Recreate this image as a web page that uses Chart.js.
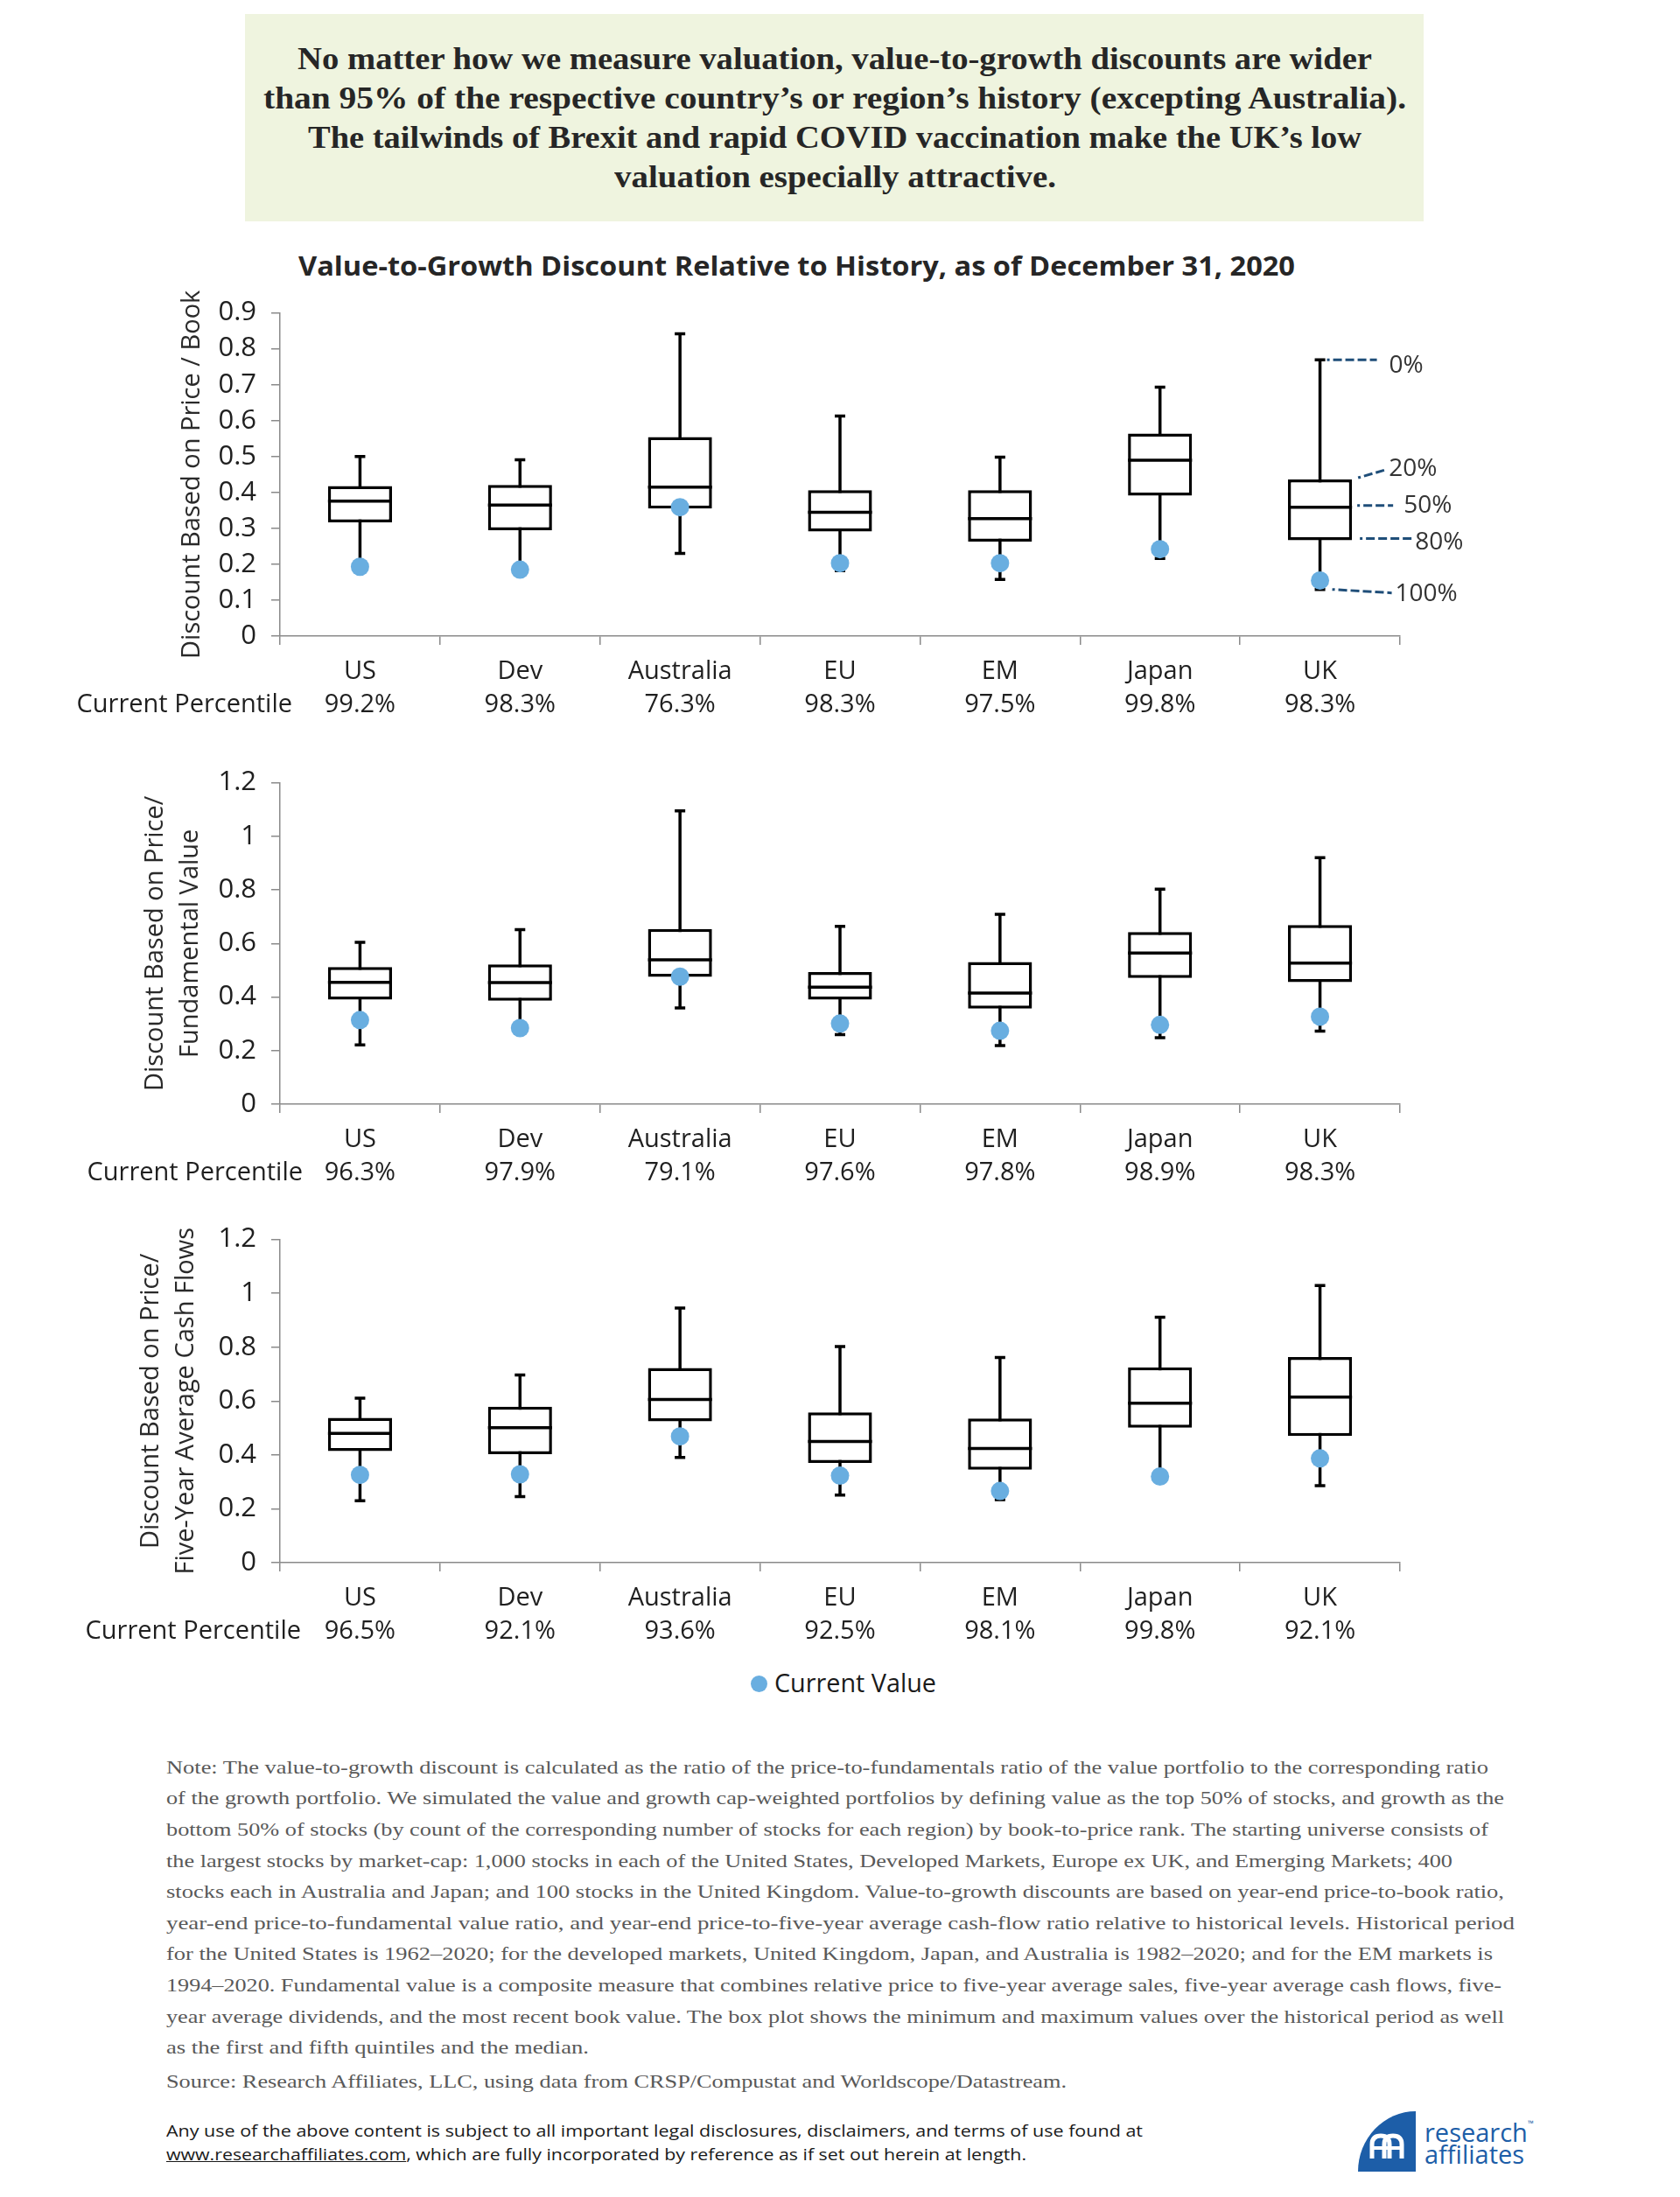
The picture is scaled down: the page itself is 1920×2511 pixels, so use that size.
<!DOCTYPE html>
<html>
<head>
<meta charset="utf-8">
<script src="https://cdn.jsdelivr.net/npm/chart.js@4.4.0/dist/chart.umd.min.js"></script>
<style>
  html, body { margin:0; padding:0; background:#fff; }
  body { width:1920px; height:2511px; position:relative; overflow:hidden; }
  .abs { position:absolute; white-space:nowrap; line-height:1; }
  .ban { font-family:"Liberation Serif", serif; font-weight:700; font-size:35px; color:#262626; }
  .note { font-family:"Liberation Serif", serif; font-size:22px; color:#595959; }
  .disc { font-family:"Open Sans", sans-serif; font-size:19px; color:#1a1a1a; }
  canvas { position:absolute; left:0; }
</style>
</head>
<body>
<div style="position:absolute;left:280px;top:16px;width:1347px;height:237px;background:#eff4df;"></div>
<div class="abs ban fit" data-cx="954" data-w="1228" style="top:50px;">No matter how we measure valuation, value-to-growth discounts are wider</div>
<div class="abs ban fit" data-cx="954" data-w="1306" style="top:95px;">than 95% of the respective country’s or region’s history (excepting Australia).</div>
<div class="abs ban fit" data-cx="954" data-w="1204" style="top:140px;">The tailwinds of Brexit and rapid COVID vaccination make the UK’s low</div>
<div class="abs ban fit" data-cx="954" data-w="505" style="top:185px;">valuation especially attractive.</div>

<div class="abs fit" data-cx="910" data-w="1139" style="top:289px;font-family:'Open Sans',sans-serif;font-weight:700;font-size:30px;color:#262626;">Value-to-Growth Discount Relative to History, as of December 31, 2020</div>

<canvas id="c1" width="1920" height="515" style="top:322px;width:1920px;height:515px;"></canvas>
<canvas id="c2" width="1920" height="513" style="top:859px;width:1920px;height:513px;"></canvas>
<canvas id="c3" width="1920" height="515" style="top:1381px;width:1920px;height:515px;"></canvas>

<div style="position:absolute;left:858px;top:1915px;width:19px;height:19px;border-radius:50%;background:#69aee0;"></div>
<div class="abs fit" data-l="885" data-w="185" style="left:885px;top:1908px;font-family:'Open Sans',sans-serif;font-size:29px;color:#1a1a1a;">Current Value</div>

<div class="abs note fit" data-l="190" data-w="1511" style="left:190px;top:2009px;">Note: The value-to-growth discount is calculated as the ratio of the price-to-fundamentals ratio of the value portfolio to the corresponding ratio</div>
<div class="abs note fit" data-l="190" data-w="1529" style="left:190px;top:2044px;">of the growth portfolio. We simulated the value and growth cap-weighted portfolios by defining value as the top 50% of stocks, and growth as the</div>
<div class="abs note fit" data-l="190" data-w="1511" style="left:190px;top:2080px;">bottom 50% of stocks (by count of the corresponding number of stocks for each region) by book-to-price rank. The starting universe consists of</div>
<div class="abs note fit" data-l="190" data-w="1470" style="left:190px;top:2116px;">the largest stocks by market-cap: 1,000 stocks in each of the United States, Developed Markets, Europe ex UK, and Emerging Markets; 400</div>
<div class="abs note fit" data-l="190" data-w="1529" style="left:190px;top:2151px;">stocks each in Australia and Japan; and 100 stocks in the United Kingdom. Value-to-growth discounts are based on year-end price-to-book ratio,</div>
<div class="abs note fit" data-l="190" data-w="1541" style="left:190px;top:2187px;">year-end price-to-fundamental value ratio, and year-end price-to-five-year average cash-flow ratio relative to historical levels. Historical period</div>
<div class="abs note fit" data-l="190" data-w="1516" style="left:190px;top:2222px;">for the United States is 1962–2020; for the developed markets, United Kingdom, Japan, and Australia is 1982–2020; and for the EM markets is</div>
<div class="abs note fit" data-l="190" data-w="1526" style="left:190px;top:2258px;">1994–2020. Fundamental value is a composite measure that combines relative price to five-year average sales, five-year average cash flows, five-</div>
<div class="abs note fit" data-l="190" data-w="1529" style="left:190px;top:2294px;">year average dividends, and the most recent book value. The box plot shows the minimum and maximum values over the historical  period as well</div>
<div class="abs note fit" data-l="190" data-w="483" style="left:190px;top:2329px;">as the first and fifth quintiles and the median.</div>
<div class="abs note fit" data-l="190" data-w="1029" style="left:190px;top:2368px;">Source: Research Affiliates, LLC, using data from CRSP/Compustat and Worldscope/Datastream.</div>

<div class="abs disc fit" data-l="190" data-w="1116" style="left:190px;top:2426px;">Any use of the above content is subject to all important legal disclosures, disclaimers, and terms of use found at</div>
<div class="abs disc fit" data-l="190" data-w="983" style="left:190px;top:2453px;"><span style="text-decoration:underline;">www.researchaffiliates.com</span>, which are fully incorporated by reference as if set out herein at length.</div>

<svg style="position:absolute;left:1550px;top:2411px;" width="70" height="73" viewBox="0 0 70 73">
  <path d="M68,2 L68,71 L2,71 A66,69 0 0 1 68,2 Z" fill="#1d5ea8"/>
  <path d="M18,56 L18,40 Q18,30 28,30 Q38,30 38,40 L38,56" fill="none" stroke="#fff" stroke-width="5"/>
  <path d="M32,56 L32,40 Q32,30 42,30 Q52,30 52,40 L52,56" fill="none" stroke="#fff" stroke-width="5"/>
  <path d="M18,44 L52,44" stroke="#fff" stroke-width="4"/>
</svg>
<div class="abs" style="left:1628px;top:2422px;font-family:'Open Sans',sans-serif;font-size:29px;color:#1d5ea8;">research<span style="font-size:9px;vertical-align:top;">™</span></div>
<div class="abs" style="left:1628px;top:2447px;font-family:'Open Sans',sans-serif;font-size:29px;color:#1d5ea8;">affiliates</div>

<script>
// ---------- DATA ----------
const categories = ['US', 'Dev', 'Australia', 'EU', 'EM', 'Japan', 'UK'];

// Chart 1: Price / Book
const pbMin     = [0.190, 0.180, 0.230, 0.182, 0.158, 0.216, 0.130];
const pbLower   = [0.317, 0.295, 0.355, 0.291, 0.263, 0.391, 0.267];
const pbMedian  = [0.376, 0.365, 0.415, 0.345, 0.327, 0.490, 0.359];
const pbUpper   = [0.418, 0.421, 0.554, 0.406, 0.406, 0.564, 0.436];
const pbMax     = [0.500, 0.491, 0.842, 0.613, 0.498, 0.693, 0.769];
const pbCurrent = [0.193, 0.185, 0.359, 0.203, 0.203, 0.242, 0.155];
const pbPercentile = ['99.2%', '98.3%', '76.3%', '98.3%', '97.5%', '99.8%', '98.3%'];

// Chart 2: Price / Fundamental Value
const pfvMin     = [0.221, 0.275, 0.359, 0.260, 0.219, 0.248, 0.273];
const pfvLower   = [0.390, 0.386, 0.475, 0.390, 0.357, 0.471, 0.456];
const pfvMedian  = [0.455, 0.454, 0.539, 0.437, 0.415, 0.564, 0.527];
const pfvUpper   = [0.512, 0.522, 0.654, 0.493, 0.531, 0.643, 0.669];
const pfvMax     = [0.604, 0.652, 1.095, 0.664, 0.709, 0.803, 0.920];
const pfvCurrent = [0.314, 0.284, 0.476, 0.301, 0.274, 0.296, 0.327];
const pfvPercentile = ['96.3%', '97.9%', '79.1%', '97.6%', '97.8%', '98.9%', '98.3%'];

// Chart 3: Price / Five-Year Average Cash Flows
const pcfMin     = [0.230, 0.245, 0.391, 0.251, 0.234, 0.310, 0.286];
const pcfLower   = [0.414, 0.403, 0.525, 0.370, 0.345, 0.501, 0.470];
const pcfMedian  = [0.480, 0.501, 0.606, 0.450, 0.424, 0.592, 0.615];
const pcfUpper   = [0.538, 0.579, 0.723, 0.558, 0.535, 0.725, 0.763];
const pcfMax     = [0.611, 0.697, 0.945, 0.802, 0.762, 0.911, 1.029];
const pcfCurrent = [0.326, 0.328, 0.469, 0.323, 0.266, 0.320, 0.387];
const pcfPercentile = ['96.5%', '92.1%', '93.6%', '92.5%', '98.1%', '99.8%', '92.1%'];

const yTicks1 = [0, 0.1, 0.2, 0.3, 0.4, 0.5, 0.6, 0.7, 0.8, 0.9];
const yTicks23 = [0, 0.2, 0.4, 0.6, 0.8, 1, 1.2];
const percentileLabel = 'Current Percentile';
const legendLabel = 'Current Value';
const ukAnnotations = ['0%', '20%', '50%', '80%', '100%'];

// ---------- STYLE ----------
const AXIS = '#8a8a8a';
const TXT = '#1f1f1f';
const DOT = '#69aee0';
const FONT = "'Open Sans', sans-serif";

// whiskers (behind boxes), medians (on boxes), percentile label, annotations
const boxParts = {
  id: 'boxParts',
  beforeDatasetsDraw(chart, args, o) {
    const ctx = chart.ctx, xs = chart.scales.x, ys = chart.scales.y;
    ctx.save();
    ctx.strokeStyle = '#000';
    ctx.lineWidth = 3.5;
    o.min.forEach((mn, i) => {
      const x = xs.getPixelForValue(i);
      const y0 = ys.getPixelForValue(mn), y1 = ys.getPixelForValue(o.max[i]);
      ctx.beginPath(); ctx.moveTo(x, y0); ctx.lineTo(x, y1); ctx.stroke();
      ctx.beginPath(); ctx.moveTo(x - 6, y0); ctx.lineTo(x + 6, y0);
      ctx.moveTo(x - 6, y1); ctx.lineTo(x + 6, y1); ctx.stroke();
    });
    ctx.restore();
  },
  afterDatasetDraw(chart, args, o) {
    if (args.index !== 0) return;
    const ctx = chart.ctx, ys = chart.scales.y;
    const meta = chart.getDatasetMeta(0);
    ctx.save();
    ctx.strokeStyle = '#000';
    ctx.lineWidth = 3.5;
    o.median.forEach((m, i) => {
      const bar = meta.data[i];
      const y = ys.getPixelForValue(m);
      ctx.beginPath(); ctx.moveTo(bar.x - bar.width / 2, y); ctx.lineTo(bar.x + bar.width / 2, y); ctx.stroke();
    });
    ctx.restore();
  },
  afterDraw(chart, args, o) {
    const ctx = chart.ctx, xs = chart.scales.x, ys = chart.scales.y;
    ctx.save();
    ctx.font = "29px " + FONT;
    ctx.fillStyle = TXT;
    ctx.textAlign = 'right';
    ctx.textBaseline = 'middle';
    const lh = 29 * 1.3;
    ctx.fillText(percentileLabel, o.cpRight, xs.top + 10 + 12 + lh * 1.5);
    if (o.annotate) {
      const i = categories.length - 1;
      const meta = chart.getDatasetMeta(0);
      const bar = meta.data[i];
      const x = bar.x, bR = bar.x + bar.width / 2;
      const yMax = ys.getPixelForValue(o.max[i]);
      const yUp = ys.getPixelForValue(o.upper[i]);
      const yMed = ys.getPixelForValue(o.median[i]);
      const yLow = ys.getPixelForValue(o.lower[i]);
      const yMin = ys.getPixelForValue(o.min[i]);
      ctx.strokeStyle = '#1f4e79';
      ctx.lineWidth = 3;
      ctx.setLineDash([10, 4]);
      ctx.lineDashOffset = 7;
      const seg = (x0, y0, x1, y1) => { ctx.beginPath(); ctx.moveTo(x0, y0); ctx.lineTo(x1, y1); ctx.stroke(); };
      seg(x + 8, yMax, x + 65, yMax);
      seg(bR + 7, yUp - 2, bR + 38, yUp - 11);
      seg(bR + 6, yMed - 2, bR + 47, yMed - 2);
      seg(bR + 9, yLow - 2, bR + 68, yLow - 2);
      seg(x + 14, yMin, x + 82, yMin + 4);
      ctx.setLineDash([]);
      ctx.font = "28px " + FONT;
      ctx.fillStyle = '#333';
      ctx.textAlign = 'left';
      ctx.fillText(ukAnnotations[0], x + 79, yMax + 7);
      ctx.fillText(ukAnnotations[1], bR + 42, yUp - 12);
      ctx.fillText(ukAnnotations[2], bR + 59, yMed - 2);
      ctx.fillText(ukAnnotations[3], bR + 72, yLow + 3);
      ctx.fillText(ukAnnotations[4], x + 86, yMin + 5);
    }
    ctx.restore();
  }
};

function makeChart(id, o) {
  new Chart(document.getElementById(id), {
    data: {
      labels: categories.map((c, i) => [c, o.pct[i]]),
      datasets: [
        {
          type: 'bar',
          label: 'Box',
          data: categories.map((c, i) => [o.lower[i], o.upper[i]]),
          backgroundColor: '#ffffff',
          borderColor: '#000000',
          borderWidth: 3.5,
          borderSkipped: false,
          barPercentage: 0.4,
          categoryPercentage: 1,
          order: 2
        },
        {
          type: 'line',
          label: legendLabel,
          data: o.current,
          showLine: false,
          pointRadius: 10.5,
          pointHoverRadius: 10.5,
          pointBackgroundColor: DOT,
          pointBorderWidth: 0,
          order: 1
        }
      ]
    },
    options: {
      responsive: false,
      animation: false,
      devicePixelRatio: 1,
      layout: { padding: { top: 30, left: 0, right: 320, bottom: 0 } },
      plugins: {
        legend: { display: false },
        tooltip: { enabled: false },
        boxParts: o
      },
      scales: {
        x: {
          type: 'category',
          offset: true,
          grid: { offset: true, drawOnChartArea: false, drawTicks: true, tickLength: 10, color: AXIS, lineWidth: 1.5 },
          border: { color: AXIS, width: 1.5 },
          ticks: { color: TXT, font: { family: FONT, size: 29, lineHeight: 1.3 }, padding: 12, maxRotation: 0, autoSkip: false },
          afterFit: s => { s.height = 110; }
        },
        y: {
          min: 0,
          max: o.ticks[o.ticks.length - 1],
          afterBuildTicks: s => { s.ticks = o.ticks.map(v => ({ value: v })); },
          grid: { drawOnChartArea: false, drawTicks: true, tickLength: 10, color: AXIS, lineWidth: 1.5 },
          border: { color: AXIS, width: 1.5 },
          ticks: { color: TXT, font: { family: FONT, size: 31 }, padding: 17, callback: v => String(+(+v).toFixed(2)) },
          title: { display: true, text: o.title, color: '#2a2a2a', font: { family: FONT, size: 29, lineHeight: 1.4 }, padding: { top: o.titlePad, bottom: 0 } },
          afterFit: s => { s.width = 320; }
        }
      }
    },
    plugins: [boxParts]
  });
}

makeChart('c1', { min: pbMin, lower: pbLower, median: pbMedian, upper: pbUpper, max: pbMax, current: pbCurrent, pct: pbPercentile,
  ticks: yTicks1, title: 'Discount Based on Price / Book', titlePad: 199, cpRight: 334, annotate: true });
makeChart('c2', { min: pfvMin, lower: pfvLower, median: pfvMedian, upper: pfvUpper, max: pfvMax, current: pfvCurrent, pct: pfvPercentile,
  ticks: yTicks23, title: ['Discount Based on Price/', 'Fundamental Value'], titlePad: 157, cpRight: 346, annotate: false });
makeChart('c3', { min: pcfMin, lower: pcfLower, median: pcfMedian, upper: pcfUpper, max: pcfMax, current: pcfCurrent, pct: pcfPercentile,
  ticks: yTicks23, title: ['Discount Based on Price/', 'Five-Year Average Cash Flows'], titlePad: 152, cpRight: 344, annotate: false });

function fitAll() {
  document.querySelectorAll('.fit').forEach(el => {
    el.style.transform = 'none';
    const w = el.getBoundingClientRect().width;
    const tw = +el.dataset.w;
    const s = tw / w;
    if (el.dataset.cx) el.style.left = (+el.dataset.cx - tw / 2) + 'px';
    el.style.transformOrigin = '0 0';
    el.style.transform = 'scaleX(' + s + ')';
  });
}
fitAll();
if (document.fonts && document.fonts.ready) document.fonts.ready.then(fitAll);
</script>
</body>
</html>
